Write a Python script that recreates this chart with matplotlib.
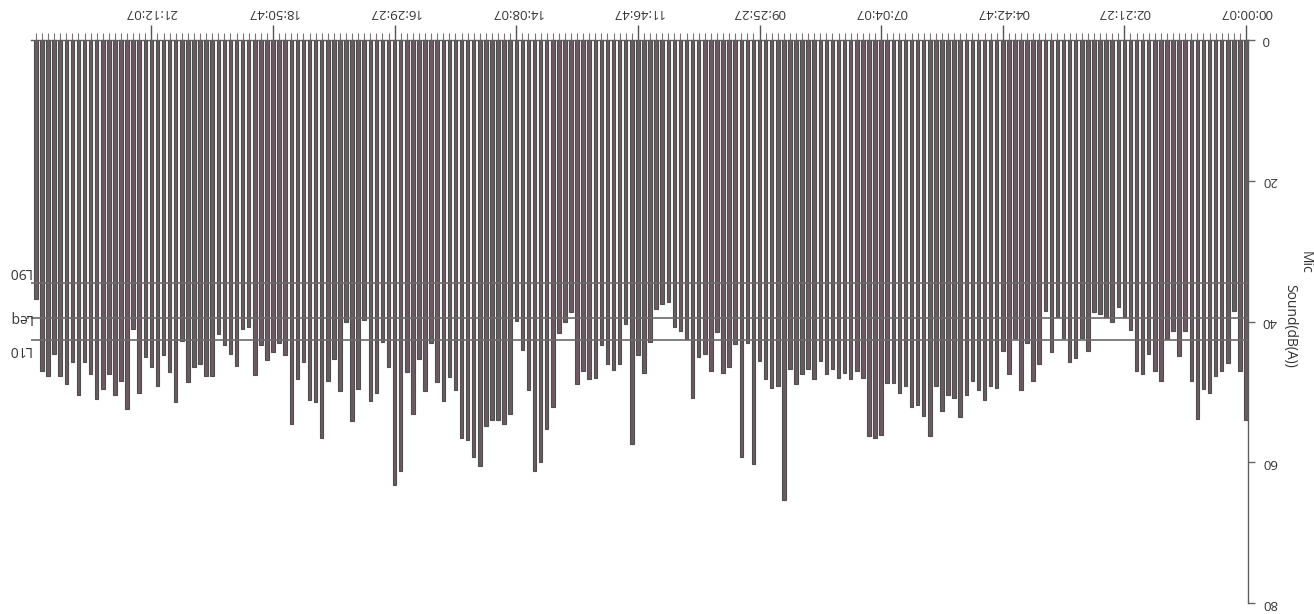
import matplotlib
matplotlib.use("Agg")
import matplotlib.pyplot as plt
from matplotlib.ticker import MultipleLocator

# Sound level per interval, chronological (first = 00:00:07)
sound = [
    54.0, 47.1, 38.5, 45.9, 47.0, 47.7, 50.1, 49.6, 53.8, 48.4,
    41.4, 44.9, 41.3, 42.5, 48.5, 47.0, 44.6, 47.5, 47.1, 41.2,
    39.3, 38.0, 40.1, 39.3, 38.9, 38.7, 44.2, 42.3, 45.2, 45.7,
    42.3, 39.3, 44.3, 38.5, 46.1, 48.5, 43.0, 49.7, 42.3, 47.5,
    44.2, 49.4, 49.1, 51.2, 49.7, 48.5, 50.4, 53.5, 50.9, 50.4,
    52.7, 49.1, 56.2, 53.4, 51.8, 52.1, 49.1, 50.2, 48.7, 48.7,
    56.1, 56.5, 56.3, 48.0, 47.1, 48.2, 47.3, 48.0, 46.8, 47.5,
    45.6, 48.2, 46.8, 47.5, 48.9, 46.8, 65.3, 49.1, 49.4, 48.1,
    45.6, 60.3, 43.0, 59.3, 43.2, 46.5, 47.3, 41.5, 47.0, 44.6,
    45.1, 50.8, 42.5, 41.3, 40.8, 37.3, 37.5, 38.2, 42.9, 47.3,
    44.8, 57.4, 40.3, 46.1, 46.9, 46.1, 43.4, 48.0, 48.2, 47.1,
    48.9, 38.7, 40.1, 41.7, 52.1, 55.3, 59.9, 61.2, 49.8, 44.1,
    39.9, 53.1, 54.6, 54.0, 54.0, 54.8, 60.5, 59.3, 56.9, 56.6,
    49.7, 47.9, 51.3, 48.6, 43.0, 49.9, 45.3, 53.1, 47.2, 61.3,
    63.3, 46.5, 42.9, 50.2, 51.3, 39.8, 49.6, 54.2, 40.0, 49.9,
    45.3, 48.4, 56.6, 51.4, 51.2, 45.8, 48.1, 54.6, 44.8, 43.1,
    44.3, 45.5, 43.4, 47.6, 40.8, 41.0, 46.3, 44.6, 43.4, 41.8,
    47.7, 47.7, 46.0, 46.5, 48.6, 42.7, 51.4, 47.2, 44.8, 49.1,
    46.5, 45.1, 50.2, 41.1, 52.4, 48.4, 50.5, 47.5, 49.6, 51.0,
    47.5, 45.8, 50.5, 45.8, 48.9, 47.7, 44.6, 47.7, 47.0, 36.8,
]
time_tick_idx = [0, 20, 40, 60, 80, 100, 120, 140, 160, 180]
time_tick_labels = ["00:00:07", "02:21:27", "04:42:47", "07:04:07", "09:25:27",
                    "11:46:47", "14:08:07", "16:29:27", "18:50:47", "21:12:07"]
y_ticks = [0, 20, 40, 60, 80]
ref_names = ["L90", "Leq", "L10"]
ref_values = [34.6, 39.5, 42.6]

plt.rcParams['font.family'] = ['Open Sans', 'DejaVu Sans']
TXT = '#333333'

W, H = 1314, 614
fig = plt.figure(figsize=(W / 100, H / 100), dpi=100)
ax_l, ax_r, ax_t, ax_b = 31, 1248, 40, 603
ax = fig.add_axes([ax_l / W, 1 - ax_b / H, (ax_r - ax_l) / W, (ax_b - ax_t) / H])

x = list(range(len(sound)))
ax.bar(x, sound, width=0.58, color='#6c5a63', edgecolor='#4e4e4e', linewidth=0.8)

ax.set_xlim(199.8, -0.33)
ax.set_ylim(80, 0)

for s in ['left', 'bottom']:
    ax.spines[s].set_visible(False)
for s in ['top', 'right']:
    ax.spines[s].set_color('#5e5e5e')
    ax.spines[s].set_linewidth(1.0)

ax.xaxis.tick_top()
ax.yaxis.tick_right()
ax.set_xticks(time_tick_idx)
ax.set_xticklabels(time_tick_labels, rotation=180, fontsize=9.5, color=TXT)
ax.xaxis.set_minor_locator(MultipleLocator(1))
ax.tick_params(axis='x', which='major', length=11, width=1, color='#555555', pad=4,
               top=True, bottom=False)
ax.tick_params(axis='x', which='minor', length=5, width=0.8, color='#777777',
               top=True, bottom=False)

ax.set_yticks(y_ticks)
ax.set_yticklabels([str(v) for v in y_ticks], rotation=180, fontsize=9.5, color=TXT)
for t in ax.get_yticklabels():
    t.set_va('center')
ax.tick_params(axis='y', length=5, width=1, color='#666666', pad=5,
               right=True, left=False)

offsets = {"L90": (0, 12), "Leq": (0, 0), "L10": (0, -10)}
for name, v in zip(ref_names, ref_values):
    ax.axhline(v, color='#6a6a6a', lw=1.2, zorder=3)
    dx, dy = offsets[name]
    ax.annotate(name, xy=((19.5 - ax_l) / (ax_r - ax_l), v), xycoords=ax.get_yaxis_transform(),
                xytext=(dx, dy), textcoords='offset pixels', rotation=180,
                ha='center', va='center', fontsize=10, color=TXT, annotation_clip=False)
    if name == "Leq":
        ax.annotate('', xy=(0, v), xycoords=ax.get_yaxis_transform(),
                    xytext=(-6, 0), textcoords='offset pixels',
                    arrowprops=dict(arrowstyle='-', color='#6a6a6a', lw=1.2),
                    annotation_clip=False)

fig.text(1290 / W, 1 - 326 / H, "Sound(dB(A))", rotation=270, ha='center', va='center',
         fontsize=10, color=TXT)
fig.text(1305 / W, 1 - 262 / H, "Mic", rotation=270, ha='center', va='center',
         fontsize=10, color=TXT)

fig.savefig("out.png", dpi=100, facecolor='white')
